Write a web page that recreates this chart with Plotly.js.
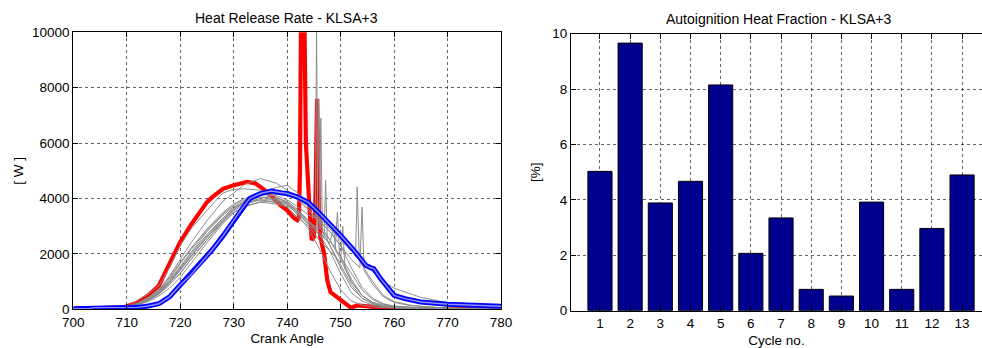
<!DOCTYPE html>
<html><head><meta charset="utf-8">
<script src="https://cdn.plot.ly/plotly-3.0.1.min.js"></script>
<style>html,body{margin:0;padding:0;background:#fff;}#chart{width:982px;height:348px;}</style>
</head><body><div id="chart"></div>
<script>
// ---- Heat release rate data (crank angle, W) ----
const redX = [700,706,709,710,712,714,716,718,720,722,724,725,726,728,730,732.5,734,735.5,737,738.8,740,741.25,741.9,742.2,742.4,742.6,742.9,743.2,743.5,743.8,744.2,744.6,745.0,745.3,745.6,745.9,746.2,746.9,747.5,748.1,749.4,750.6,751.9,753.1,756,758,760,780];
const redY = [20,30,60,100,250,500,850,1650,2430,3050,3600,3870,4050,4350,4480,4600,4550,4350,4100,3750,3570,3300,3220,3300,5000,10800,9000,11000,6000,4660,3600,2500,2600,4000,7600,4000,2600,2020,1050,620,440,260,60,140,100,50,20,0];

const blueX = [700,703,704,712,714,716,718,720,722,724,726,728,730,731.3,733,735,737,739,740,742,744,746,748,750,752.5,754.7,755.6,756.2,757.5,759.4,760,762,765,770,774,780];
const blueY = [20,25,60,70,120,200,450,880,1250,1680,2150,2650,3210,3570,4000,4180,4270,4200,4180,4050,3850,3480,3090,2670,2130,1590,1500,1470,1100,625,505,385,265,180,145,110];

const grayBaseX = [700,708,710,712,714,716,718,720,722,725,728,730,732,735,738,740,742,744,746,748,750,752,754,756,758,760,763,766,770,780];
const gray1Y = [20,40,80,300,550,850,1500,2300,2900,3570,4200,4330,4350,4300,4050,3850,3500,3200,2700,2100,1300,600,300,150,90,60,40,30,20,10];
const gray2Y = [20,30,70,200,400,700,1200,1800,2400,3200,3900,4200,4500,4720,4550,4300,3950,3600,3100,2500,1800,1000,500,250,150,100,60,40,25,10];
const gray12Y = [20,30,75,210,400,680,1100,1650,2150,2850,3450,3750,3950,4050,3950,3800,3400,2900,2200,1400,700,300,150,90,60,40,30,25,15,5];

const gray3X = [700,708,710,712,714,716,718,720,722,725,728,730,732,735,738,740,742,744,746,748,750,752,754,756,758,760,762,765,770,775,780];
const gray3Y = [20,30,60,160,320,560,900,1300,1800,2500,3200,3600,3900,4200,4400,4480,4200,3800,3400,3000,2600,2150,1650,1350,1000,760,620,430,240,140,80];
const gray4X = [700,708,710,712,714,716,718,720,722,725,728,730,732,735,738,740,742,744,745.3,745.5,745.7,746,748,750,752,754,756,758,760,763,766,770,780];
const gray4Y = [20,30,70,220,430,720,1150,1700,2200,2900,3500,3800,4000,4150,4100,3950,3700,3400,3300,10500,3250,3200,2800,2300,1500,800,400,200,120,70,40,20,10];
const gray5X = [700,708,710,712,714,716,718,720,722,725,728,730,732,735,738,740,742,744,745.6,745.9,746.2,748,750,752,754,756,758,760,763,770,780];
const gray5Y = [20,30,60,180,360,620,1000,1500,2000,2700,3300,3650,3900,4050,4000,3900,3600,3200,2900,7600,2900,2500,1900,1100,500,250,130,80,50,20,10];
const gray6X = [700,708,710,712,714,716,718,720,722,725,728,730,732,735,738,740,742,744,746,746.3,746.6,748,750,752,754,756,758,760,763,770,780];
const gray6Y = [20,30,60,170,330,580,950,1400,1900,2600,3200,3550,3800,3950,3950,3850,3550,3150,2900,6900,2800,2300,1500,800,400,200,110,70,40,20,10];
const gray7X = [700,708,710,712,714,716,718,720,722,725,728,730,732,735,738,740,742,744,746,746.9,747.2,747.5,748,750,752,754,756,758,760,763,770,780];
const gray7Y = [20,30,50,150,280,480,760,1150,1650,2400,3100,3480,3720,3880,3900,3800,3500,3100,2800,2600,4660,2500,2300,1600,900,400,200,100,60,40,15,5];
const gray8X = [700,708,710,712,714,716,718,720,722,725,728,730,732,735,738,740,742,744,746,748,748.7,749,749.4,749.8,750,752,754,756,758,760,763,770,780];
const gray8Y = [20,30,70,200,380,650,1050,1550,2050,2800,3400,3700,3850,3950,3850,3750,3450,3050,2700,2400,3000,2200,3500,2000,1900,1300,700,350,180,100,60,25,10];
const gray9X = [700,708,710,712,714,716,718,720,722,725,728,730,732,735,738,740,742,744,746,748,750,750.4,750.8,752,754,756,758,760,763,770,780];
const gray9Y = [20,30,60,160,310,540,880,1300,1800,2500,3150,3500,3700,3870,3800,3700,3300,3000,2500,2100,1700,3000,1500,1000,500,220,100,50,30,15,5];
const gray10X = [700,708,710,712,714,716,718,720,722,725,728,730,732,735,738,740,742,744,746,748,750,752,752.8,753.1,753.5,754,756,758,760,763,766,770,780];
const gray10Y = [20,30,65,190,350,600,980,1450,1950,2650,3300,3650,3900,4100,4250,4200,4000,3700,3300,2900,2500,2100,1900,4420,1800,1600,1000,500,280,150,90,50,20];
const gray11X = [700,708,710,712,714,716,718,720,722,725,728,730,732,735,738,740,742,744,746,748,750,752,753.6,754,754.4,756,758,760,763,766,770,780];
const gray11Y = [20,30,60,170,340,590,960,1420,1920,2600,3250,3600,3850,4000,4150,4150,3950,3600,3200,2800,2300,1800,1500,3690,1400,900,450,250,130,80,40,15];

// ---- Autoignition heat fraction data ----
const cycles = [1,2,3,4,5,6,7,8,9,10,11,12,13];
const fraction = [5.03,9.66,3.89,4.67,8.15,2.07,3.35,0.77,0.53,3.92,0.77,2.97,4.90];

const xTicks = [700,710,720,730,740,750,760,770,780];
const yTicks = [0,2000,4000,6000,8000,10000];
const y2Ticks = [0,2,4,6,8,10];

const grays = [
  [grayBaseX, gray1Y],[grayBaseX, gray2Y],[gray3X, gray3Y],[gray4X, gray4Y],
  [gray5X, gray5Y],[gray6X, gray6Y],[gray7X, gray7Y],[gray8X, gray8Y],
  [gray9X, gray9Y],[gray10X, gray10Y],[gray11X, gray11Y],[grayBaseX, gray12Y]
];

const traces = [];
traces.push({x: redX, y: redY, type:'scatter', mode:'lines', line:{color:'#ff0000', width:4.2}, xaxis:'x', yaxis:'y', hoverinfo:'skip'});
grays.forEach(g => traces.push({x:g[0], y:g[1], type:'scatter', mode:'lines', line:{color:'#8c8c8c', width:1}, xaxis:'x', yaxis:'y', hoverinfo:'skip'}));
traces.push({x: blueX, y: blueY, type:'scatter', mode:'lines', line:{color:'#0000ff', width:5}, xaxis:'x', yaxis:'y', hoverinfo:'skip'});
traces.push({x: blueX, y: blueY, type:'scatter', mode:'lines', line:{color:'#8f8fff', width:1.4}, xaxis:'x', yaxis:'y', hoverinfo:'skip'});
traces.push({x: cycles, y: fraction, type:'bar', width:0.8, marker:{color:'#00008f', line:{color:'#000', width:1}}, xaxis:'x2', yaxis:'y2', hoverinfo:'skip'});

const W = 982, H = 348;
const font = {family:'"Liberation Sans", Arial, sans-serif', size:13.5, color:'#000'};
const titleFont = {family:'"Liberation Sans", Arial, sans-serif', size:14, color:'#000'};
const axBase = {
  showline:true, linecolor:'#000', linewidth:1, mirror:'ticks',
  ticks:'inside', ticklen:5, tickcolor:'#000', tickwidth:1,
  showgrid:true, gridcolor:'rgba(0,0,0,0.6)', griddash:'dot', gridwidth:1,
  zeroline:false, tickfont:font, fixedrange:true
};
const layout = {
  width:W, height:H, margin:{l:0,r:0,t:0,b:0},
  paper_bgcolor:'#fff', plot_bgcolor:'#fff', showlegend:false, font:font,
  xaxis: Object.assign({}, axBase, {domain:[73.3/W, 501/W], range:[700,780], tickvals:xTicks, ticktext:xTicks.map(String), anchor:'y',
    title:{text:'Crank Angle', font:font, standoff:5}}),
  yaxis: Object.assign({}, axBase, {domain:[(H-309.3)/H, (H-32.3)/H], range:[0,10000], tickvals:yTicks, ticktext:yTicks.map(String), anchor:'x',
    title:{text:'[ W ]', font:font, standoff:5}}),
  xaxis2: Object.assign({}, axBase, {domain:[571/W, 1], range:[0.04,13.66], tickvals:cycles, ticktext:cycles.map(String), anchor:'y2',
    title:{text:'Cycle no.', font:font, standoff:5}}),
  yaxis2: Object.assign({}, axBase, {domain:[(H-310.7)/H, (H-33.7)/H], range:[0,10], tickvals:y2Ticks, ticktext:y2Ticks.map(String), anchor:'x2', mirror:false,
    title:{text:'[%]', font:font, standoff:8}}),
  annotations:[
    {text:'Heat Release Rate - KLSA+3', xref:'paper', yref:'paper', x:286/W, y:(H-18.5)/H, xanchor:'center', yanchor:'middle', showarrow:false, font:titleFont},
    {text:'Autoignition Heat Fraction - KLSA+3', xref:'paper', yref:'paper', x:779/W, y:(H-19)/H, xanchor:'center', yanchor:'middle', showarrow:false, font:titleFont}
  ]
};
Plotly.newPlot('chart', traces, layout, {staticPlot:true, displayModeBar:false});
</script>
</body></html>
